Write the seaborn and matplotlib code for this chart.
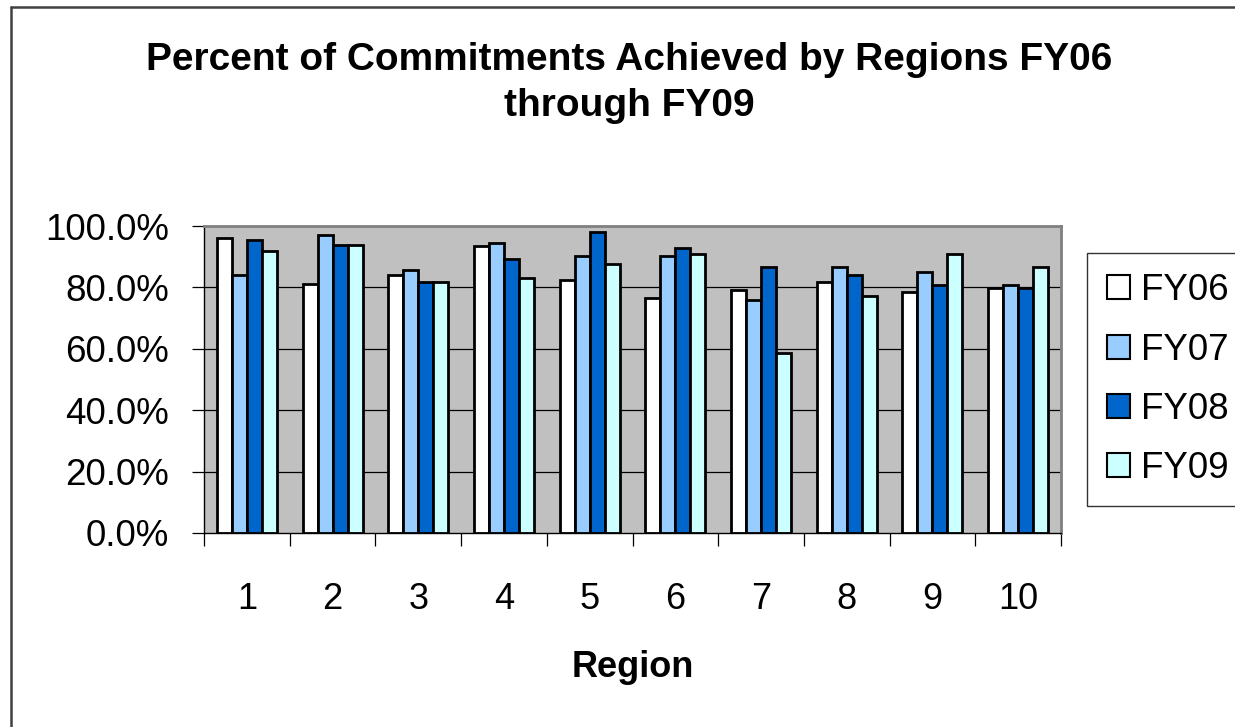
import numpy as np
import pandas as pd
import matplotlib
matplotlib.use("Agg")
import matplotlib.pyplot as plt
import seaborn as sns
from matplotlib.lines import Line2D
from matplotlib.ticker import FuncFormatter

regions = ["1", "2", "3", "4", "5", "6", "7", "8", "9", "10"]
years = ["FY06", "FY07", "FY08", "FY09"]
fy06 = [96.2, 81.0, 84.2, 93.6, 82.5, 76.6, 79.0, 81.6, 78.4, 79.9]
fy07 = [84.2, 97.0, 85.7, 94.4, 90.1, 90.1, 75.8, 86.8, 85.1, 80.8]
fy08 = [95.3, 93.8, 81.6, 89.2, 97.9, 92.7, 86.8, 84.2, 80.8, 79.9]
fy09 = [91.8, 93.8, 81.6, 83.2, 87.7, 91.0, 58.6, 77.3, 91.0, 86.8]
yticks = [0, 20, 40, 60, 80, 100]
title = "Percent of Commitments Achieved by Regions FY06\nthrough FY09"

colors = ["#FFFFFF", "#99CCFF", "#0066CC", "#CCFFFF"]

df = pd.DataFrame({
    "Region": regions * 4,
    "Year": sum([[y] * len(regions) for y in years], []),
    "Value": fy06 + fy07 + fy08 + fy09,
})

sns.set_theme(style="white")
plt.rcParams["font.family"] = ["Liberation Sans", "DejaVu Sans"]
plt.rcParams["text.color"] = "black"
plt.rcParams["axes.labelcolor"] = "black"
plt.rcParams["xtick.color"] = "black"
plt.rcParams["ytick.color"] = "black"

W, H = 1235, 727
fig = plt.figure(figsize=(W / 100, H / 100), dpi=100)
fig.patch.set_facecolor("white")
ax = fig.add_axes([204 / W, (H - 533) / H, (1061 - 204) / W, (533 - 226) / H])
ax.set_facecolor("#C0C0C0")

sns.barplot(data=df, x="Region", y="Value", hue="Year", order=regions,
            hue_order=years, palette=colors, edgecolor="black",
            linewidth=2.0, width=0.7, ax=ax, saturation=1, errorbar=None)

ax.set_ylim(0, 100)
ax.set_xlim(-0.5, len(regions) - 0.5)
ax.set_yticks(yticks)
ax.yaxis.set_major_formatter(FuncFormatter(lambda v, p: f"{v:.1f}%"))
for y in yticks[1:-1]:
    ax.axhline(y, color="black", lw=0.9, zorder=0.5)

ax.set_xticks(range(len(regions)))
ax.set_xticklabels(regions)
ax.set_xticks(np.arange(-0.5, len(regions), 1), minor=True)
ax.tick_params(axis="x", which="major", length=0, pad=35, labelsize=26, labelcolor="black")
ax.tick_params(axis="x", which="minor", length=9, width=0.9, color="black", direction="out", bottom=True)
ax.tick_params(axis="y", which="major", length=9, width=0.9, color="black", direction="out", left=True, pad=16, labelsize=26.5, labelcolor="black")

for s in ["left", "bottom"]:
    ax.spines[s].set_color("black")
    ax.spines[s].set_linewidth(1.0)
for s in ["top", "right"]:
    ax.spines[s].set_color("#808080")
    ax.spines[s].set_linewidth(2.0)

ax.set_xlabel("Region", fontsize=26, fontweight="bold", labelpad=24, color="black")
ax.set_ylabel("")

handles, labels = ax.get_legend_handles_labels()
ax.get_legend().remove()
for h in handles:
    h.set_edgecolor("black")
    h.set_linewidth(1.5)
leg = fig.legend(handles, labels, loc="upper left",
                 bbox_to_anchor=(1087 / W, (H - 253) / H),
                 fontsize=26.5, frameon=True, fancybox=False,
                 handlelength=0.62, handleheight=0.62, handletextpad=0.3,
                 labelspacing=0.66, borderpad=0.55, borderaxespad=0,
                 labelcolor="black")
leg.get_frame().set_edgecolor("black")
leg.get_frame().set_linewidth(1.0)

fig.text(629 / W, (H - 83) / H, title, ha="center", va="center",
         fontsize=28, fontweight="bold", linespacing=1.35, color="black")

fig.add_artist(Line2D([10.5 / W, 10.5 / W], [0, (H - 7) / H], transform=fig.transFigure,
                      color="#404040", lw=1.8))
fig.add_artist(Line2D([10.5 / W, 1], [(H - 7) / H, (H - 7) / H], transform=fig.transFigure,
                      color="#404040", lw=1.8))

fig.savefig("out.png", dpi=100)
